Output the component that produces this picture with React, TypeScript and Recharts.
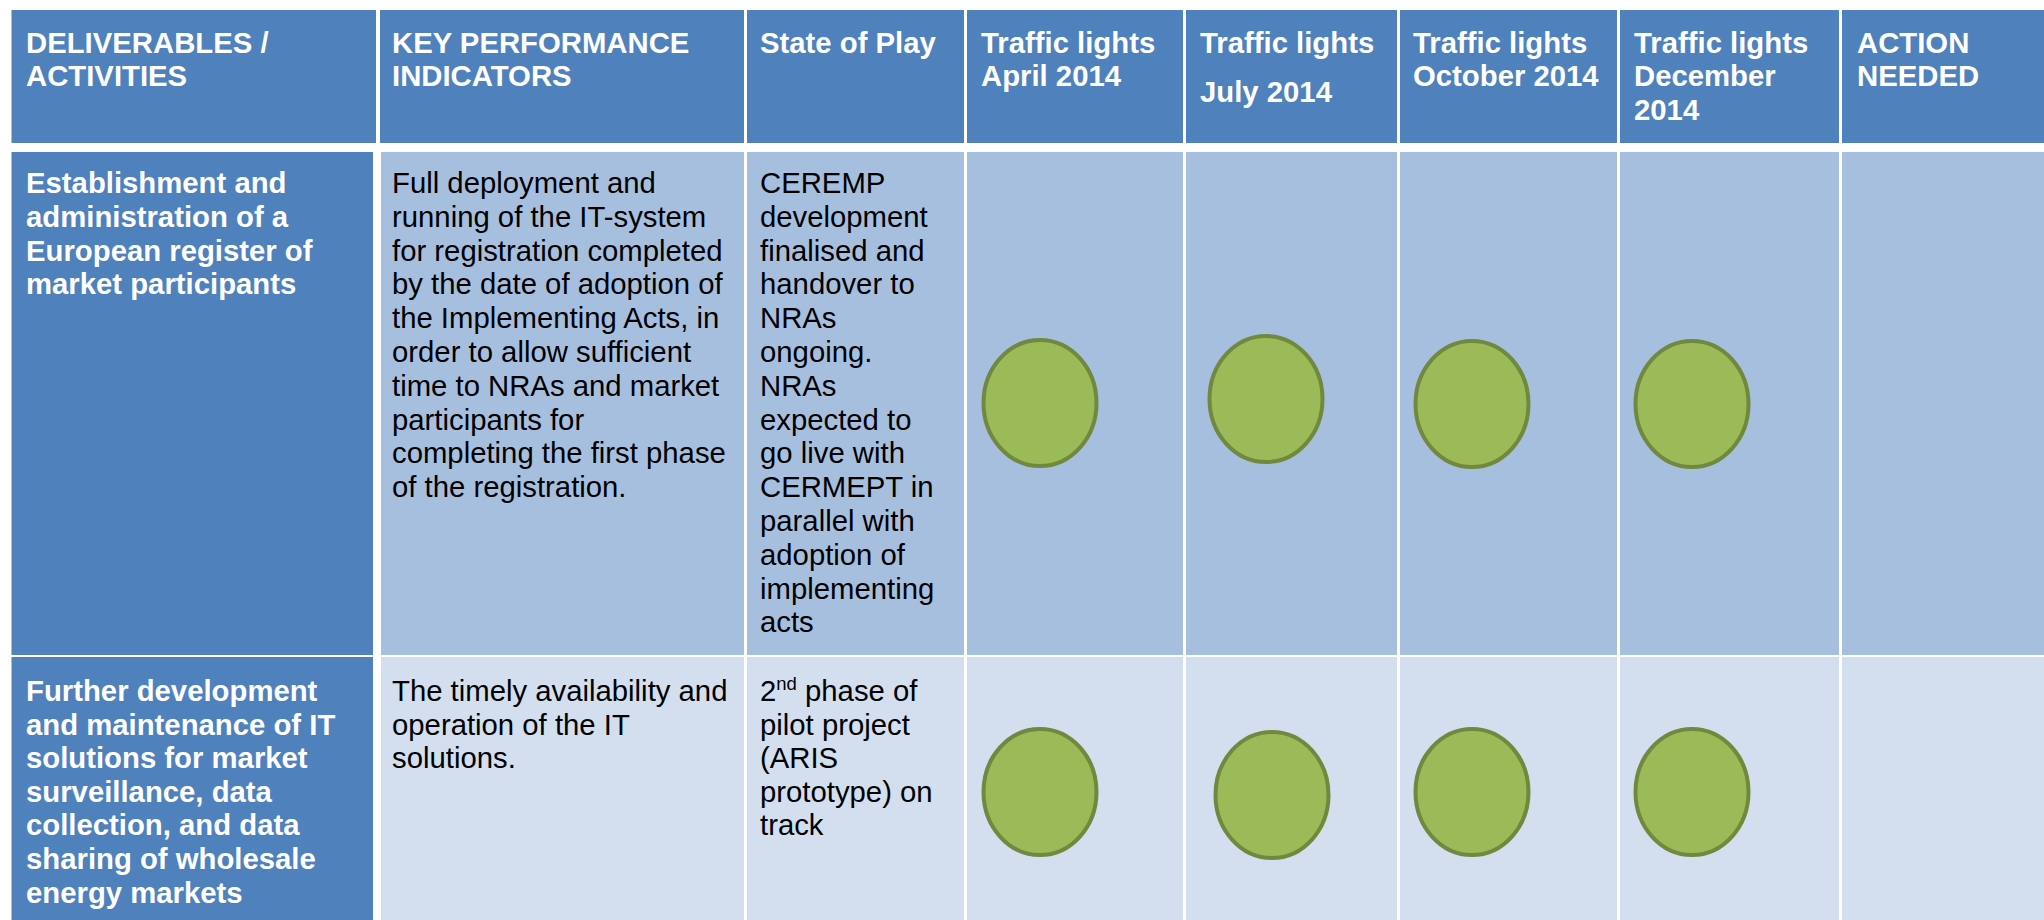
import React from 'react';
import { ScatterChart, Scatter, XAxis, YAxis, ReferenceArea } from 'recharts';

// ---------------- DATA ----------------
const headerLabels: string[][] = [
  ['DELIVERABLES /', 'ACTIVITIES'],
  ['KEY PERFORMANCE', 'INDICATORS'],
  ['State of Play'],
  ['Traffic lights', 'April 2014'],
  ['Traffic lights', 'July 2014'],
  ['Traffic lights', 'October 2014'],
  ['Traffic lights', 'December', '2014'],
  ['ACTION', 'NEEDED'],
];

const deliverables: string[][] = [
  ['Establishment and', 'administration of a', 'European register of', 'market participants'],
  [
    'Further development',
    'and maintenance of IT',
    'solutions for market',
    'surveillance, data',
    'collection, and data',
    'sharing of wholesale',
    'energy markets',
  ],
];

const kpis: string[][] = [
  [
    'Full deployment and',
    'running of the IT-system',
    'for registration completed',
    'by the date of adoption of',
    'the Implementing Acts, in',
    'order to allow sufficient',
    'time to NRAs and market',
    'participants for',
    'completing the first phase',
    'of the registration.',
  ],
  ['The timely availability and', 'operation of the IT', 'solutions.'],
];

const stateOfPlay: string[][] = [
  [
    'CEREMP',
    'development',
    'finalised and',
    'handover to',
    'NRAs',
    'ongoing.',
    'NRAs',
    'expected to',
    'go live with',
    'CERMEPT in',
    'parallel with',
    'adoption of',
    'implementing',
    'acts',
  ],
  ['2^nd^ phase of', 'pilot project', '(ARIS', 'prototype) on', 'track'],
];

const aprilLights = ['green', 'green'];
const julyLights = ['green', 'green'];
const octoberLights = ['green', 'green'];
const decemberLights = ['green', 'green'];
const actionNeeded: string[][] = [[], []];

// ---------------- LAYOUT / STYLE ----------------
const W = 2044;
const H = 920;
const FONT = '"Liberation Sans", Arial, Helvetica, sans-serif';
const FS = 29.3;
const LINE_H = 33.8;

const HEADER_BLUE = '#4F81BD';
const ROW_COLORS = ['#A7BFDE', '#D3DFEE'];
const LIGHT_STYLE: Record<string, { fill: string; stroke: string }> = {
  green: { fill: '#9BBB59', stroke: '#71893F' },
};

const headerCols: [number, number][] = [
  [11.5, 376], [380, 744], [747, 964], [967, 1183],
  [1186, 1397], [1400, 1617], [1620, 1839], [1842, 2044],
];
const bodyCols: [number, number][] = [
  [11.5, 373], [381, 744], [747, 964], [967, 1183],
  [1186, 1397], [1400, 1617], [1620, 1839], [1842, 2044],
];
const textX = [26, 392, 760, 981, 1200, 1413, 1634, 1857];
const headerY: [number, number] = [10, 143];
const rowY: [number, number][] = [[152, 655], [657, 920]];
const headerBaseline = 53;
const rowBaseline = [193, 701];
const headerLineOffsets: (number[] | null)[] = [null, null, null, null, [0, 49], null, null, null];

const circleX = [
  [1040, 1266, 1472, 1692],
  [1040, 1272, 1472, 1692],
];
const circleY = [
  [403, 399, 404, 404],
  [792, 795, 792, 792],
];

const allLights = [aprilLights, julyLights, octoberLights, decemberLights];
const lightPoints = allLights.flatMap((col, ci) =>
  col.map((status, ri) => ({ x: circleX[ri][ci], y: circleY[ri][ci], status }))
);

// ---------------- COMPONENTS ----------------
function LineText({ x, y, line, color, bold }: any) {
  const parts = line.split('^');
  const out: any[] = [];
  let shift = 0;
  parts.forEach((p: string, i: number) => {
    if (!p) return;
    const sup = i % 2 === 1;
    let dy = 0;
    if (sup && shift === 0) { dy = -11; shift = -11; }
    else if (!sup && shift !== 0) { dy = 11; shift = 0; }
    out.push(
      <tspan key={i} dy={dy} fontSize={sup ? 18.5 : FS}>
        {p}
      </tspan>
    );
  });
  return (
    <text
      x={x}
      y={y}
      fill={color}
      fontFamily={FONT}
      fontSize={FS}
      fontWeight={bold ? 'bold' : 'normal'}
      style={{ whiteSpace: 'pre' }}
    >
      {out}
    </text>
  );
}

function CellText(props: any) {
  const { viewBox, lines, dx, dy, color, bold, offsets, lineH } = props;
  if (!viewBox || !lines) return null;
  const x = viewBox.x + dx;
  return (
    <g>
      {lines.map((ln: string, i: number) => (
        <LineText
          key={i}
          x={x}
          y={viewBox.y + dy + (offsets ? offsets[i] : i * (lineH || LINE_H))}
          line={ln}
          color={color}
          bold={bold}
        />
      ))}
    </g>
  );
}

function Light(props: any) {
  const { cx, cy, payload } = props;
  const st = LIGHT_STYLE[payload.status] || LIGHT_STYLE.green;
  return <ellipse cx={cx} cy={cy} rx={56.5} ry={63} fill={st.fill} stroke={st.stroke} strokeWidth={4} />;
}

export default function App() {
  const rowsContent = [deliverables, kpis, stateOfPlay, null, null, null, null, actionNeeded];
  return (
    <div style={{ position: 'absolute', left: 0, top: 0, width: W, height: H, background: '#fff' }}>
      <ScatterChart width={W} height={H} margin={{ top: 0, right: 0, bottom: 0, left: 0 }}>
        <XAxis type="number" dataKey="x" domain={[0, W]} hide allowDataOverflow />
        <YAxis type="number" dataKey="y" domain={[0, H]} reversed hide allowDataOverflow />
        {headerCols.map(([x1, x2], ci) => (
          <ReferenceArea
            key={`h${ci}`}
            x1={x1}
            x2={x2}
            y1={headerY[0]}
            y2={headerY[1]}
            fill={HEADER_BLUE}
            fillOpacity={1}
            stroke="none"
            ifOverflow="visible"
            label={
              <CellText
                lines={headerLabels[ci]}
                dx={textX[ci] - x1}
                dy={headerBaseline - headerY[0]}
                color="#FFFFFF"
                bold
                lineH={33.3}
                offsets={headerLineOffsets[ci]}
              />
            }
          />
        ))}
        {rowY.map(([y1, y2], ri) =>
          bodyCols.map(([x1, x2], ci) => {
            const content = rowsContent[ci];
            return (
              <ReferenceArea
                key={`r${ri}c${ci}`}
                x1={x1}
                x2={x2}
                y1={y1}
                y2={y2}
                fill={ci === 0 ? HEADER_BLUE : ROW_COLORS[ri]}
                fillOpacity={1}
                stroke="none"
                ifOverflow="visible"
                label={
                  content ? (
                    <CellText
                      lines={content[ri]}
                      dx={textX[ci] - x1}
                      dy={rowBaseline[ri] - y1}
                      color={ci === 0 ? '#FFFFFF' : '#000000'}
                      bold={ci === 0}
                      lineH={ri === 0 ? 33.8 : 33.6}
                    />
                  ) : undefined
                }
              />
            );
          })
        )}
        <Scatter data={lightPoints} isAnimationActive={false} shape={<Light />} />
      </ScatterChart>
    </div>
  );
}
